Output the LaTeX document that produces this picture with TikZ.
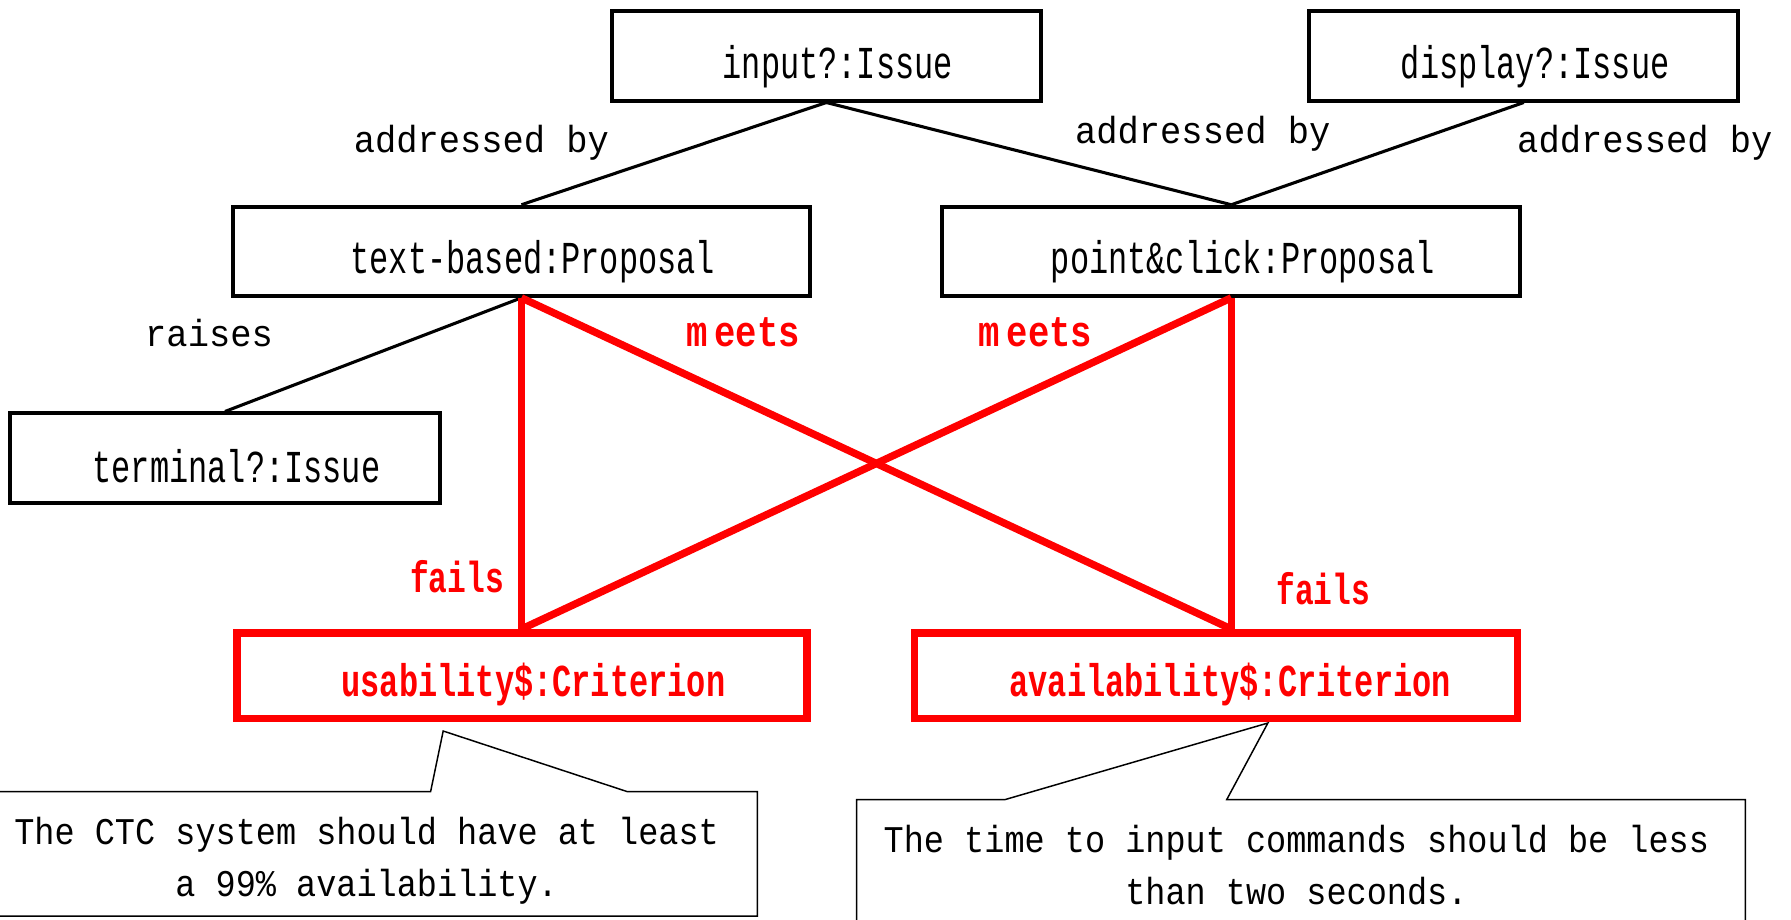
\documentclass[tikz,border=0pt]{standalone}
\usepackage{fontspec}
% condensed typewriter faces for boxes, relation labels and notes
\newfontfamily\boxfont[FakeStretch=0.70]{Liberation Mono}
\newfontfamily\tagfont[FakeStretch=0.72]{Liberation Mono}
\newfontfamily\wideTagfont[FakeStretch=0.82]{Liberation Mono}
\newfontfamily\relfont[FakeStretch=0.94]{Liberation Mono}
\newfontfamily\notefont[FakeStretch=0.89]{Liberation Mono}
\definecolor{critred}{RGB}{255,0,0}

\begin{document}
\begin{tikzpicture}[x=1pt,y=-1pt,
  box/.style={draw, line width=3.5pt, minimum height=78pt, inner sep=0pt,
    text height=42pt, text depth=3pt,
    font=\boxfont\fontsize{40}{44}\selectfont,
    execute at begin node={\hspace*{20pt}}},
  crit/.style={box, draw=critred, text=critred, line width=6.5pt,
    minimum height=75pt, text height=40pt,
    font=\boxfont\bfseries\fontsize{40}{44}\selectfont},
  link/.style={line width=2.7pt},
  redlink/.style={draw=critred, line width=6.5pt},
  rel/.style={anchor=base, inner sep=0pt, font=\relfont\fontsize{33}{36}\selectfont},
  redrel/.style={anchor=base, inner sep=0pt, text=critred,
    font=\tagfont\bfseries\fontsize{38}{40}\selectfont},
  meetrel/.style={redrel, font=\wideTagfont\bfseries\fontsize{38}{40}\selectfont},
  note/.style={draw, line width=1.3pt, fill=white},
  notetext/.style={align=center, inner sep=0pt,
    font=\notefont\fontsize{33}{45}\selectfont}
]
\useasboundingbox (0,0) rectangle (1568,805);

% issues, proposals and criteria
\node[box, minimum width=375pt] (input)   at (723.5,49)  {input?:Issue};
\node[box, minimum width=376pt] (display) at (1334,49)   {display?:Issue};
\node[box, minimum width=505pt] (tb)      at (456.5,220) {text-based:Proposal};
\node[box, minimum width=506pt] (pc)      at (1078,220)  {point\&click:Proposal};
\node[box, minimum width=376pt, text height=46pt] (term) at (197,401) {terminal?:Issue};
\node[crit, minimum width=499pt] (us) at (457,591.5) {usability\$:Criterion};
\node[crit, minimum width=528pt, execute at begin node={\hspace*{5pt}}] (av) at (1064.5,591.5) {availability\$:Criterion};

% black relations
\draw[link] (input.south) -- (tb.north);
\draw[link] (input.south) -- (pc.north);
\draw[link] (display.south) -- (pc.north);
\draw[link] (tb.south) -- (term.north);

% red relations between proposals and criteria
\draw[redlink] (tb.south) -- (tb.south |- us.north);
\draw[redlink] (tb.south) -- (pc.south |- av.north);
\draw[redlink] (pc.south) -- (tb.south |- us.north);
\draw[redlink] (pc.south) -- (pc.south |- av.north);

% relation labels
\node[rel] (lab1) at (421.5,133.7) {addressed by};
\node[rel] (lab2) at (1053,126)    {addressed by};
\node[rel] (lab3) at (1440,133.7)  {addressed by};
\node[rel] (lab4) at (183,303.5)   {raises};
\node[meetrel] (lab5) at (650.5,303.5) {m\kern6pt eets};
\node[meetrel] (lab6) at (906.5,303.5) {m\kern6pt eets};
\node[redrel] (lab7) at (400,519)     {fails};
\node[redrel] (lab8) at (1158.5,529)  {fails};

% callout notes
\coordinate (n1a) at (377,693);
\coordinate (n1tip) at (388,640);
\coordinate (n1b) at (549,693);
\draw[note] (-3,693) -- (n1a) -- (n1tip) -- (n1b) -- (663,693) -- (663,802) -- (-3,802) -- cycle;
\node[notetext] (note1) at (321,753.7) {The CTC system should have at least\\a 99\% availability.};

\coordinate (n2a) at (880,700);
\coordinate (n2tip) at (1110,633);
\coordinate (n2b) at (1074,700);
\draw[note] (750,700) -- (n2a) -- (n2tip) -- (n2b) -- (1528,700) -- (1528,830) -- (750,830) -- cycle;
\node[notetext] (note2) at (1135,757.2) {The time to input commands should be less\\than two seconds.};
\end{tikzpicture}
\end{document}
